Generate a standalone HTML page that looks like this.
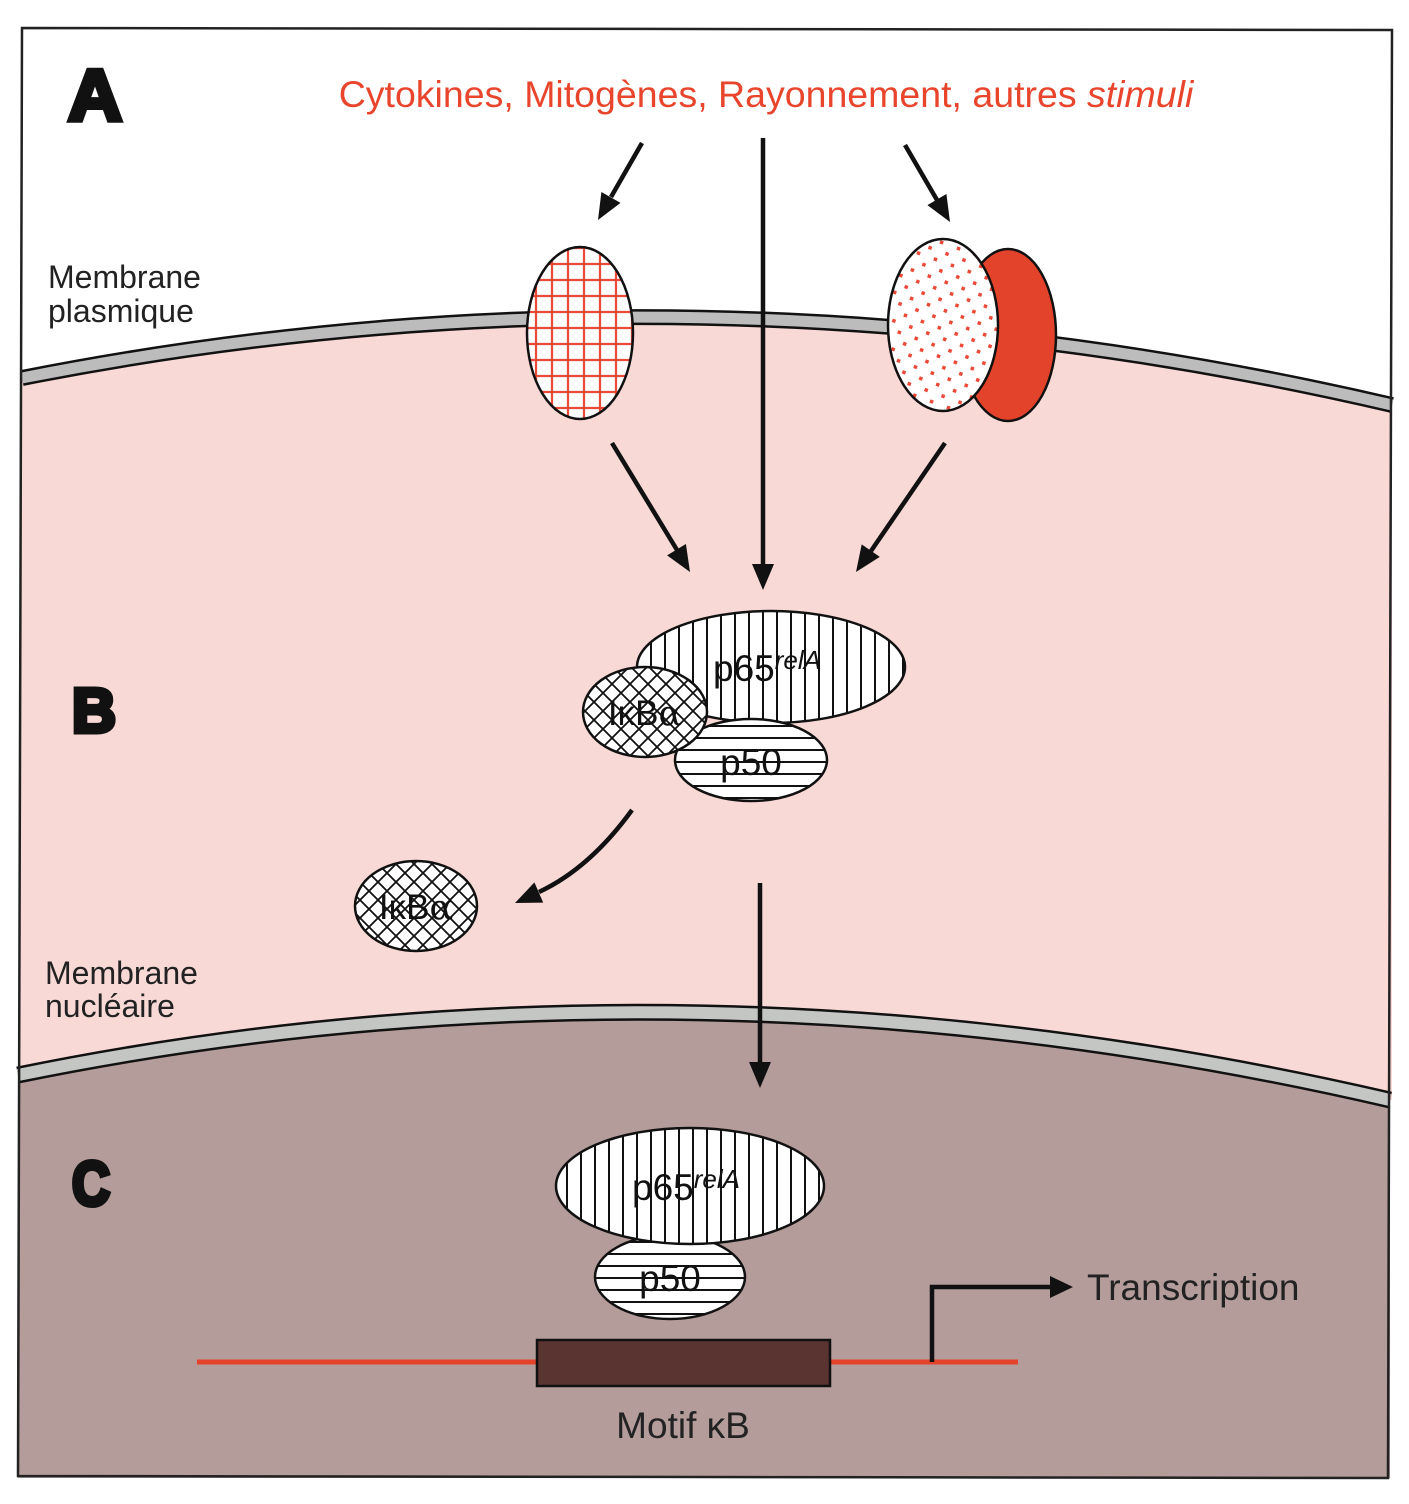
<!DOCTYPE html>
<html><head><meta charset="utf-8"><style>
html,body{margin:0;padding:0;background:#fff;}
svg{display:block;font-family:"Liberation Sans",sans-serif;}
</style></head><body>
<svg width="1409" height="1504" viewBox="0 0 1409 1504" xmlns="http://www.w3.org/2000/svg">
<defs>
<pattern id="grid" width="16" height="16" patternUnits="userSpaceOnUse" x="0" y="0">
<rect width="16" height="16" fill="#fff"/>
<path d="M8 0V16M0 8H16" stroke="#ec4a38" stroke-width="2.2"/>
</pattern>
<pattern id="dots" width="18" height="18" patternUnits="userSpaceOnUse" patternTransform="rotate(20)">
<rect width="18" height="18" fill="#fff"/>
<rect x="3" y="3" width="3.5" height="3.5" fill="#ec4a38"/>
<rect x="12" y="12" width="3.5" height="3.5" fill="#ec4a38"/>
</pattern>
<pattern id="vert" width="14" height="14" patternUnits="userSpaceOnUse">
<rect width="14" height="14" fill="#fff"/>
<path d="M7 0V14" stroke="#111" stroke-width="2"/>
</pattern>
<pattern id="horiz" width="12" height="12" patternUnits="userSpaceOnUse">
<rect width="12" height="12" fill="#fff"/>
<path d="M0 6H12" stroke="#111" stroke-width="2"/>
</pattern>
<pattern id="cross" width="18" height="18" patternUnits="userSpaceOnUse">
<rect width="18" height="18" fill="#fff"/>
<path d="M0 0L18 18M18 0L0 18" stroke="#111" stroke-width="1.8"/>
</pattern>
</defs>

<rect x="22" y="28" width="1370" height="1450" fill="#fff"/>
<path d="M22,378 Q700,244 1392,405 L1392,1100 L18,1100 Z" fill="#f8d9d5"/>
<path d="M18,1075 Q690,938 1390,1100 L1390,1478 L18,1478 Z" fill="#b39c99"/>
<path d="M22,378 Q700,244 1392,405" fill="none" stroke="#111" stroke-width="16"/>
<path d="M22,378 Q700,244 1392,405" fill="none" stroke="#bcbcbc" stroke-width="11"/>
<path d="M18,1075 Q690,938 1390,1100" fill="none" stroke="#111" stroke-width="17"/>
<path d="M18,1075 Q690,938 1390,1100" fill="none" stroke="#c4c6c4" stroke-width="12"/>
<path d="M22,28 L1392,30 L1388,1478 L18,1476 Z" fill="none" stroke="#222" stroke-width="2.5"/>

<text x="766" y="107" text-anchor="middle" font-size="37.5" fill="#e8452c">Cytokines, Mitogènes, Rayonnement, autres <tspan font-style="italic">stimuli</tspan></text>
<text x="68" y="120" font-size="72" font-weight="bold" fill="#111" stroke="#111" stroke-width="5" textLength="54" lengthAdjust="spacingAndGlyphs">A</text>
<text x="72" y="732" font-size="62" font-weight="bold" fill="#111" stroke="#111" stroke-width="5" textLength="44" lengthAdjust="spacingAndGlyphs">B</text>
<text x="72" y="1205" font-size="62" font-weight="bold" fill="#111" stroke="#111" stroke-width="5" textLength="38" lengthAdjust="spacingAndGlyphs">C</text>

<text x="48" y="288" font-size="32" fill="#222">Membrane</text>
<text x="48" y="322" font-size="32" fill="#222">plasmique</text>
<text x="45" y="984" font-size="32" fill="#222">Membrane</text>
<text x="45" y="1017" font-size="32" fill="#222">nucléaire</text>

<ellipse cx="580" cy="333" rx="53" ry="86" fill="url(#grid)" stroke="#111" stroke-width="2.5"/>
<ellipse cx="1008" cy="335" rx="48" ry="86" fill="#e4432b" stroke="#111" stroke-width="2.5"/>
<ellipse cx="943" cy="325" rx="55" ry="86" fill="url(#dots)" stroke="#111" stroke-width="2.5"/>

<g stroke="#111" stroke-width="4.5" fill="none">
<line x1="642" y1="143" x2="611" y2="197"/>
<line x1="763" y1="138" x2="763" y2="565"/>
<line x1="905" y1="145" x2="937" y2="200"/>
<line x1="612" y1="443" x2="677" y2="550"/>
<line x1="945" y1="443" x2="871" y2="551"/>
<path d="M632,810 Q590,868 539,892"/>
<line x1="760" y1="883" x2="760" y2="1063"/>
</g>
<g fill="#111">
<polygon points="598,220 620.5,202.9 601.4,192"/>
<polygon points="763,590 752,564 774,564"/>
<polygon points="950,222 927.4,205.1 946.4,194"/>
<polygon points="690,572 667.1,555.4 685.9,544"/>
<polygon points="856,572 879.8,556.9 861.7,544.4"/>
<polygon points="515,903 534.4,882.4 543.2,902.6"/>
<polygon points="760,1088 749,1062 771,1062"/>
</g>

<ellipse cx="771" cy="667" rx="134" ry="56" fill="url(#vert)" stroke="#111" stroke-width="2.5"/>
<ellipse cx="751" cy="760" rx="76" ry="41" fill="url(#horiz)" stroke="#111" stroke-width="2.5"/>
<ellipse cx="645" cy="712" rx="62" ry="45" fill="url(#cross)" stroke="#111" stroke-width="2.5"/>
<text x="713" y="681" font-size="37" fill="#111">p65<tspan font-size="26" font-style="italic" dy="-12">relA</tspan></text>
<text x="751" y="775" text-anchor="middle" font-size="37" fill="#111">p50</text>
<text x="645" y="725" text-anchor="middle" font-size="35" fill="#111">IκB<tspan font-family="DejaVu Serif, serif">α</tspan></text>

<ellipse cx="416" cy="906" rx="61" ry="45" fill="url(#cross)" stroke="#111" stroke-width="2.5"/>
<text x="416" y="919" text-anchor="middle" font-size="35" fill="#111">IκB<tspan font-family="DejaVu Serif, serif">α</tspan></text>

<ellipse cx="670" cy="1277" rx="75" ry="42" fill="url(#horiz)" stroke="#111" stroke-width="2.5"/>
<ellipse cx="690" cy="1186" rx="134" ry="58" fill="url(#vert)" stroke="#111" stroke-width="2.5"/>
<text x="632" y="1200" font-size="37" fill="#111">p65<tspan font-size="26" font-style="italic" dy="-12">relA</tspan></text>
<text x="670" y="1291" text-anchor="middle" font-size="37" fill="#111">p50</text>

<line x1="197" y1="1362" x2="1018" y2="1362" stroke="#e4432b" stroke-width="5"/>
<rect x="537" y="1340" width="293" height="46" fill="#5a3431" stroke="#111" stroke-width="2.5"/>
<text x="683" y="1438" text-anchor="middle" font-size="37" fill="#222">Motif κB</text>
<path d="M932,1362 V1287 H1055" fill="none" stroke="#111" stroke-width="4.5"/>
<path d="M1050,1276 L1073,1287 L1050,1298 Z" fill="#111"/>
<text x="1087" y="1300" font-size="37" fill="#222">Transcription</text>
</svg>
</body></html>
